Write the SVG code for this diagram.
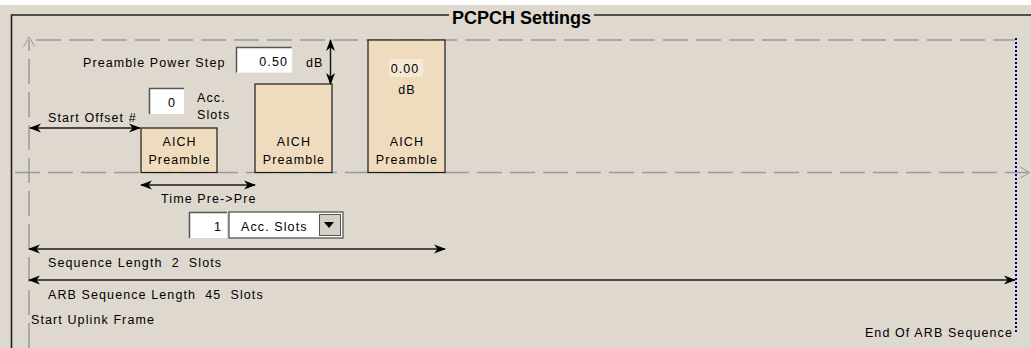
<svg xmlns="http://www.w3.org/2000/svg" width="1031" height="348" viewBox="0 0 1031 348">
<defs>
<style>
.t{font-family:"Liberation Sans",Arial,sans-serif;font-size:12.5px;fill:#000;letter-spacing:1.1px;white-space:pre}
.title{font-family:"Liberation Sans",Arial,sans-serif;font-size:18px;font-weight:bold;fill:#000}
.dash{stroke:#999;stroke-width:1.5;fill:none;stroke-dasharray:25 8}
.arr{stroke:#1a1a1a;stroke-width:1.5;fill:none}
.box{fill:#efdcbf;stroke:#1a1a1a;stroke-width:1.2}
.open{stroke:#999;stroke-width:1;fill:none}
</style>
<marker id="ah" viewBox="0 0 12 10" refX="11" refY="5" markerWidth="12" markerHeight="10" markerUnits="userSpaceOnUse" orient="auto-start-reverse">
<path d="M0,0.5 L12,5 L0,9.5 L3.5,5 Z" fill="#000"/>
</marker>
</defs>
<rect x="0" y="0" width="1031" height="348" fill="#ded8cf"/>
<rect x="0" y="0" width="1031" height="5" fill="#ffffff"/>
<g id="frame">
<path d="M11.5,348 L11.5,15 L449,15 M594,15 L1031,15" stroke="#222" stroke-width="1.6" fill="none"/>
<text class="title" x="452" y="24">PCPCH Settings</text>
</g>
<g id="axes">
<path class="dash" d="M36,40 L1015,40"/>
<path class="dash" d="M29,348 L29,40"/>
<path class="open" d="M23.5,47 L29,37 L34.5,46"/>
<path class="dash" d="M15,172.5 L1028,172.5"/>
<path class="open" d="M1020,167 L1030,172.5 L1020,178"/>
<path d="M1016,38 L1016,334" stroke="#00008b" stroke-width="2" stroke-dasharray="2 2" fill="none"/>
</g>
<g id="connectors">
<line class="arr" x1="30" y1="128" x2="140" y2="128" marker-start="url(#ah)" marker-end="url(#ah)"/>
<line class="arr" x1="141" y1="185" x2="255" y2="185" marker-start="url(#ah)" marker-end="url(#ah)"/>
<line class="arr" x1="330.5" y1="40" x2="330.5" y2="84" marker-start="url(#ah)" marker-end="url(#ah)"/>
<line class="arr" x1="29" y1="249" x2="445" y2="249" marker-start="url(#ah)" marker-end="url(#ah)"/>
<line class="arr" x1="29" y1="280" x2="1015" y2="280" marker-start="url(#ah)" marker-end="url(#ah)"/>
</g>
<g id="preamble1">
<rect class="box" x="141" y="128" width="76" height="44.5"/>
<text class="t" x="179.6" y="146" text-anchor="middle">AICH</text>
<text class="t" x="179.6" y="164" text-anchor="middle">Preamble</text>
</g>
<g id="preamble2">
<rect class="box" x="255" y="84" width="77" height="88.5"/>
<text class="t" x="294" y="146" text-anchor="middle">AICH</text>
<text class="t" x="294" y="164" text-anchor="middle">Preamble</text>
</g>
<g id="preamble3">
<rect class="box" x="368" y="40" width="77" height="132.5"/>
<rect x="389" y="59" width="34" height="18" fill="#f6e8d6"/>
<text class="t" x="405" y="73" text-anchor="middle">0.00</text>
<text class="t" x="407" y="94" text-anchor="middle">dB</text>
<text class="t" x="407" y="146" text-anchor="middle">AICH</text>
<text class="t" x="407" y="164" text-anchor="middle">Preamble</text>
</g>
<g id="power-step">
<text class="t" x="83" y="67">Preamble Power Step</text>
<rect x="236" y="47" width="56" height="26" fill="#fff"/>
<path d="M236.5,73 L236.5,47.5 L292,47.5" stroke="#555" stroke-width="1.5" fill="none"/>
<path d="M292,47.5 L292,72.5 L236.5,72.5" stroke="#eee" stroke-width="1" fill="none"/>
<text class="t" x="288" y="66" text-anchor="end">0.50</text>
<text class="t" x="306" y="67">dB</text>
</g>
<g id="start-offset">
<text class="t" x="48" y="122">Start Offset #</text>
<rect x="149" y="88" width="35" height="26" fill="#fff"/>
<path d="M149.5,114 L149.5,88.5 L184,88.5" stroke="#555" stroke-width="1.5" fill="none"/>
<text class="t" x="172" y="107" text-anchor="middle">0</text>
<text class="t" x="197" y="102">Acc.</text>
<text class="t" x="197" y="119">Slots</text>
</g>
<g id="time-pre">
<text class="t" x="161" y="203">Time Pre-&gt;Pre</text>
<rect x="189" y="212" width="38" height="26" fill="#fff"/>
<path d="M189.5,238 L189.5,212.5 L227,212.5" stroke="#555" stroke-width="1.5" fill="none"/>
<text class="t" x="222" y="231" text-anchor="end">1</text>
<rect x="229" y="212" width="114" height="26" fill="#fff" stroke="#6a6a6a" stroke-width="1.5"/>
<text class="t" x="241" y="231">Acc. Slots</text>
<rect x="319.5" y="214.5" width="21" height="21" fill="#d4d0c8" stroke="#555" stroke-width="1"/>
<path d="M324,222 L334,222 L329,228 Z" fill="#000"/>
</g>
<g id="labels">
<text class="t" x="48" y="267">Sequence Length  2  Slots</text>
<text class="t" x="48" y="299">ARB Sequence Length  45  Slots</text>
<text class="t" x="31" y="324">Start Uplink Frame</text>
<text class="t" x="1013" y="337" text-anchor="end">End Of ARB Sequence</text>
</g>
</svg>
